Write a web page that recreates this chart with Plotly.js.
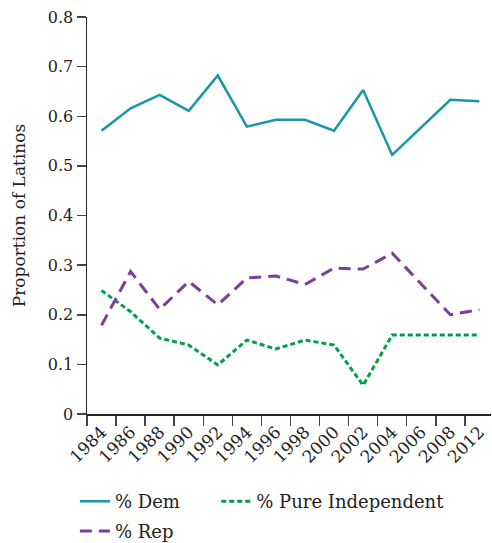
<!DOCTYPE html>
<html>
<head>
<meta charset="utf-8">
<script src="https://cdn.plot.ly/plotly-3.0.1.min.js"></script>
<style>html,body{margin:0;padding:0;background:#fff;}#chart{width:492px;height:543px;}</style>
</head>
<body>
<div id="chart"></div>
<script>
var years = ["1984","1986","1988","1990","1992","1994","1996","1998","2000","2002","2004","2006","2008","2012"];
var pctDem = [0.571, 0.616, 0.643, 0.611, 0.682, 0.579, 0.593, 0.593, 0.571, 0.653, 0.522, null, 0.633, 0.630];
var pctInd = [0.249, 0.206, 0.153, 0.139, 0.099, 0.149, 0.131, 0.149, 0.139, 0.058, 0.159, null, 0.159, 0.159];
var pctRep = [0.179, 0.287, 0.211, 0.267, 0.220, 0.274, 0.278, 0.261, 0.294, 0.292, 0.324, null, 0.200, 0.210];
var yTicks = [0, 0.1, 0.2, 0.3, 0.4, 0.5, 0.6, 0.7, 0.8];

var fontFam = "DejaVu Serif, Liberation Serif, serif";

var traces = [
  {x: years, y: pctDem, name: "% Dem", type: "scatter", mode: "lines", connectgaps: true,
   line: {color: "#1897A6", width: 2.5}, legend: "legend"},
  {x: years, y: pctInd, name: "% Pure Independent", type: "scatter", mode: "lines", connectgaps: true,
   line: {color: "#00A04A", width: 3, dash: "5px,3px"}, legend: "legend3"},
  {x: years, y: pctRep, name: "% Rep", type: "scatter", mode: "lines", connectgaps: true,
   line: {color: "#7B3F9A", width: 3, dash: "12px,7px"}, legend: "legend2"}
];

var legFont = {family: fontFam, size: 18, color: "#222"};

var layout = {
  width: 492, height: 543,
  margin: {l: 87, r: 1, t: 17, b: 129, autoexpand: false},
  paper_bgcolor: "#fff", plot_bgcolor: "#fff",
  font: {family: fontFam, size: 16, color: "#222"},
  showlegend: true,
  xaxis: {
    type: "category", categoryorder: "array", categoryarray: years, automargin: false,
    range: [-0.5, 13.4], tickson: "boundaries", ticks: "outside", ticklen: 10, tickwidth: 1.5,
    tickcolor: "#444", showline: true, linecolor: "#222", linewidth: 1.5,
    showgrid: false, zeroline: false, tickangle: -45,
    tickfont: {family: fontFam, size: 17, color: "#222"}
  },
  yaxis: {
    range: [0, 0.8], tickvals: yTicks, ticktext: yTicks.map(String), automargin: false,
    ticks: "outside", ticklen: 9, tickwidth: 1.5, tickcolor: "#444",
    showline: true, linecolor: "#222", linewidth: 1.5, showgrid: false, zeroline: false,
    tickfont: {family: fontFam, size: 16, color: "#222"},
    title: {text: "Proportion of Latinos", font: {family: fontFam, size: 17, color: "#222"}, standoff: 18}
  },
  legend: {
    orientation: "h", x: -0.03, xanchor: "left", y: -0.174, yanchor: "top",
    font: legFont, bgcolor: "rgba(0,0,0,0)"
  },
  legend3: {
    orientation: "h", x: 0.32, xanchor: "left", y: -0.174, yanchor: "top",
    font: legFont, bgcolor: "rgba(0,0,0,0)"
  },
  legend2: {
    orientation: "h", x: -0.03, xanchor: "left", y: -0.249, yanchor: "top",
    font: legFont, bgcolor: "rgba(0,0,0,0)"
  }
};

Plotly.newPlot("chart", traces, layout, {displayModeBar: false, staticPlot: true});
</script>
</body>
</html>
